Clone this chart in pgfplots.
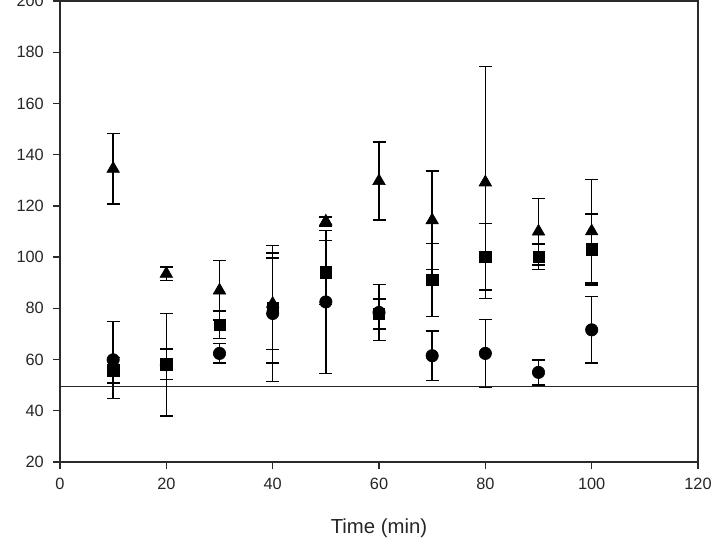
\documentclass[border=0pt]{standalone}
\usepackage{pgfplots}
\pgfplotsset{compat=1.18}
\usepackage{pgfplotstable}
\usepackage{fontspec}
\setmainfont{Liberation Sans}

% columns: time, mean, standard deviation
\pgfplotstableread{
x y e
10 59.9 15.0
20 58.0 20.0
30 62.4 3.8
40 78.0 26.5
50 82.5 28.0
60 78.4 11.0
70 61.5 9.7
80 62.4 13.3
90 55.0 4.9
100 71.6 13.0
}\circdata
\pgfplotstableread{
x y e
10 55.8 5.0
20 58.2 5.9
30 73.6 5.3
40 80.1 21.5
50 94.1 12.5
60 77.8 5.8
70 91.1 14.2
80 100.1 13.0
90 100.2 5.0
100 103.0 13.9
}\squaredata
\pgfplotstableread{
x y e
10 134.5 13.8
20 93.5 2.6
30 87.0 11.6
40 81.8 17.8
50 113.9 1.8
60 129.7 15.2
70 114.4 19.2
80 129.2 45.3
90 110.0 13.0
100 110.1 20.2
}\tridata

\definecolor{axisgray}{HTML}{2A2A2A}

\begin{document}
\begin{tikzpicture}
\begin{axis}[
  scale only axis,
  width=382.8pt, height=276.6pt,
  xmin=0, xmax=120, ymin=20, ymax=200,
  xtick={0,20,...,120}, ytick={20,40,...,200},
  tick align=outside, xtick pos=bottom, ytick pos=left,
  major tick length=4.2pt,
  axis line style={axisgray, line width=0.8pt},
  tick style={axisgray, line width=0.8pt},
  /pgf/number format/assume math mode=true,
  ticklabel style={font=\fontsize{9.8}{11}\selectfont, text=black!85},
  yticklabel style={xshift=-2pt},
  xticklabel style={yshift=-2pt},
  xlabel={Time (min)},
  xlabel style={at={(axis description cs:0.5,0)}, anchor=center, yshift=-39.6pt,
    font=\fontsize{12.2}{14}\selectfont, text=black!85},
  clip=false,
  error bars/y dir=both, error bars/y explicit,
  error bars/error bar style={black, line width=0.85pt},
  error bars/error mark options={rotate=90, mark size=3.9pt, line width=0.85pt, black},
]
\addplot[black!85, line width=0.85pt, forget plot] coordinates {(0,49.5) (120,49.5)};
\addplot[only marks, mark=*, mark size=3.7pt, mark options={fill=black, draw=black}]
  table[x=x, y=y, y error=e]{\circdata};
\addplot[only marks, mark=square*, mark size=3.4pt, mark options={fill=black, draw=black}]
  table[x=x, y=y, y error=e]{\squaredata};
\addplot[only marks, mark=triangle*, mark size=4.3pt, mark options={fill=black, draw=black}]
  table[x=x, y=y, y error=e]{\tridata};
\coordinate (bl) at (rel axis cs:0,0);
\coordinate (tr) at (rel axis cs:1,1);
\end{axis}
\pgfresetboundingbox
\path[use as bounding box] ([xshift=-36pt,yshift=-48pt]bl) rectangle ([xshift=7.8pt,yshift=0.6pt]tr);
\end{tikzpicture}
\end{document}
